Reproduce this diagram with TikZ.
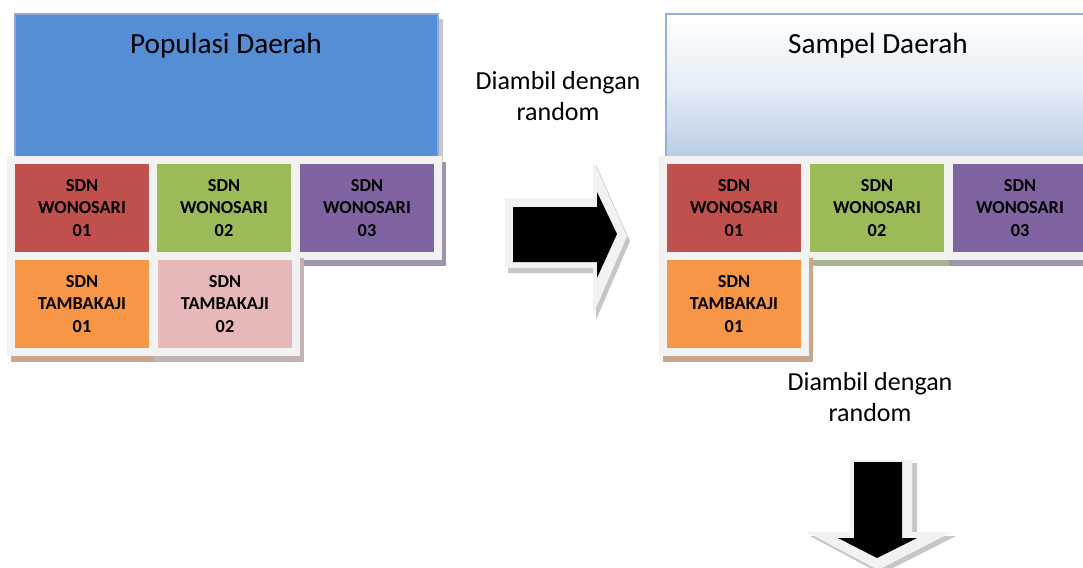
\documentclass[tikz,border=0pt]{standalone}
\usepackage{fontspec}
\setmainfont{Carlito}
\definecolor{popblue}{RGB}{85,142,213}
\definecolor{popedge}{RGB}{141,170,215}
\definecolor{sampblue}{RGB}{185,205,229}
\definecolor{sampedge}{RGB}{149,179,215}
\definecolor{sdnred}{RGB}{192,80,77}
\definecolor{sdngreen}{RGB}{155,187,89}
\definecolor{sdnpurple}{RGB}{128,100,162}
\definecolor{sdnorange}{RGB}{247,150,70}
\definecolor{sdnpink}{RGB}{230,185,184}
\definecolor{framec}{RGB}{242,242,242}

\begin{document}
\begin{tikzpicture}[x=0.025cm, y=-0.025cm,
	sdntext/.style={font=\fontsize{13}{16}\selectfont\bfseries, align=center},
	bigtitle/.style={font=\fontsize{20.8}{25}\selectfont},
	randtext/.style={font=\fontsize{18.5}{22.5}\selectfont, align=center}]
	\useasboundingbox (0,0) rectangle (1083,567);
	\clip (0,0) rectangle (1083,567);
	% population box
	\fill[gray!45] (438,19) rectangle (443,161);
	\fill[popblue] (15,14) rectangle (438,157);
	\draw[popedge, line width=1.4pt] (15,14) rectangle (438,157);
	\node[bigtitle] (popul) at (226,46) {Populasi Daerah};
	% sample box
	\shade[top color=white, bottom color=sampblue, middle color=sampblue!35!white] (666,14) rectangle (1090,157);
	\draw[sampedge, line width=1.4pt] (666,14) rectangle (1090,157);
	\node[bigtitle] (sampel) at (878,46) {Sampel Daerah};
	% school cells: shadow, frame, fill
	\foreach \x/\y/\col/\name/\school/\num in {
		15/164/sdnred/pw1/WONOSARI/01, 157/164/sdngreen/pw2/WONOSARI/02,
		300/164/sdnpurple/pw3/WONOSARI/03, 15/260/sdnorange/pt1/TAMBAKAJI/01,
		158/260/sdnpink/pt2/TAMBAKAJI/02,
		667/164/sdnred/sw1/WONOSARI/01, 810/164/sdngreen/sw2/WONOSARI/02,
		953/164/sdnpurple/sw3/WONOSARI/03, 667/260/sdnorange/st1/TAMBAKAJI/01} {
		\fill[\col!45!gray!75!white] (\x-4,\y-2) rectangle (\x+146,\y+102);
		\fill[framec] (\x-8,\y-8) rectangle (\x+142,\y+96);
		\fill[\col] (\x,\y) rectangle (\x+134,\y+88);
		\node[sdntext] (\name) at (\x+67,\y+44) {SDN\\\school\\\num};
	}
	% arrow to the right
	\fill[gray!45] (508,203) -- (596,203) -- (596,165) -- (630,241) -- (596,320) -- (596,273) -- (508,273) -- cycle;
	\fill[framec] (505,198) -- (593,198) -- (593,160) -- (627,236) -- (593,315) -- (593,268) -- (505,268) -- cycle;
	\fill[black] (513,207) -- (597,207) -- (597,192) -- (617,234) -- (597,278) -- (597,262) -- (513,262) -- cycle;
	\node[randtext] (pick1) at (558,96) {Diambil dengan\\random};
	% arrow downwards
	\fill[gray!45] (855,463) -- (917,463) -- (917,536) -- (956,536) -- (881,574) -- (810,536) -- (855,536) -- cycle;
	\fill[framec] (850,460) -- (912,460) -- (912,532) -- (952,532) -- (878,570) -- (807,532) -- (850,532) -- cycle;
	\fill[black] (854,462) -- (902,462) -- (902,538) -- (917,538) -- (877,558) -- (838,538) -- (854,538) -- cycle;
	\node[randtext] (pick2) at (870,397) {Diambil dengan\\random};
\end{tikzpicture}
\end{document}
